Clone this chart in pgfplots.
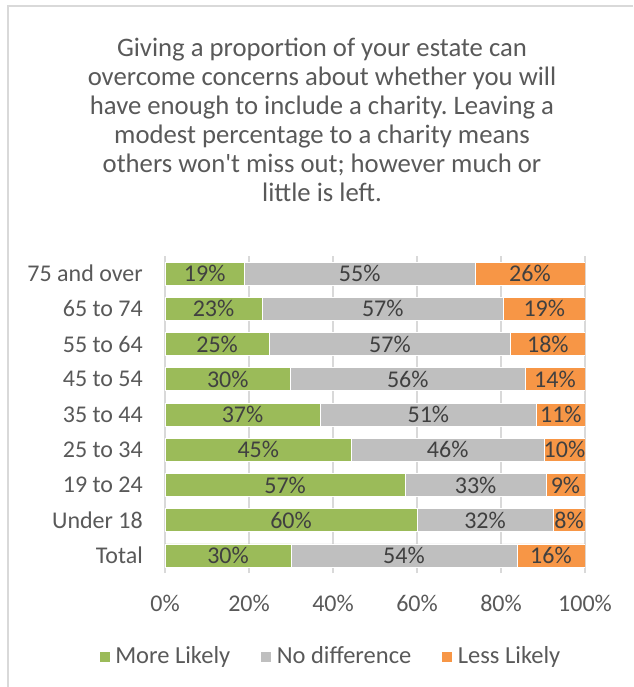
\documentclass[border=0pt]{standalone}
\usepackage{fontspec}
\setmainfont{Carlito}
\usepackage{pgfplots}
\usepackage{pgfplotstable}
\pgfplotsset{compat=1.18}
\frenchspacing
\definecolor{cGreen}{HTML}{9BBB59}
\definecolor{cGray}{HTML}{BFBFBF}
\definecolor{cOrange}{HTML}{F79646}
\definecolor{cGrid}{HTML}{D9D9D9}
\definecolor{cText}{HTML}{595959}
\definecolor{cLabel}{HTML}{404040}

\pgfplotstableread{
y g n l
0 30.0 53.8 16.2
1 60.0 32.4 7.6
2 57.2 33.5 9.3
3 44.4 45.8 9.8
4 36.9 51.6 11.5
5 29.9 55.8 14.3
6 24.8 57.5 17.7
7 23.1 57.5 19.4
8 18.9 54.9 26.2
}\bars

\pgfplotstableread{
x y lab
15.00 0 30\%
56.90 0 54\%
91.90 0 16\%
30.00 1 60\%
76.20 1 32\%
96.20 1 8\%
28.60 2 57\%
73.95 2 33\%
95.35 2 9\%
22.20 3 45\%
67.30 3 46\%
95.10 3 10\%
18.45 4 37\%
62.70 4 51\%
94.25 4 11\%
14.95 5 30\%
57.80 5 56\%
92.85 5 14\%
12.40 6 25\%
53.55 6 57\%
91.15 6 18\%
11.55 7 23\%
51.85 7 57\%
90.30 7 19\%
9.45 8 19\%
46.35 8 55\%
86.90 8 26\%
}\labels

\begin{document}
\begin{tikzpicture}
\fontsize{24pt}{29pt}\selectfont
\path[use as bounding box] (0,0) rectangle (633pt,-687pt);
\draw[cGrid, line width=2pt] (8pt,-687pt) -- (8pt,-6pt) -- (633pt,-6pt);
\node[text=cText, align=center, font=\fontsize{26.7pt}{29pt}\selectfont\frenchspacing] at (322pt,-119.5pt)
 {Giving a proportion of your estate can\\overcome concerns about whether you will\\have enough to include a charity. Leaving a\\modest percentage to a charity means\\others won\textquotesingle t miss out; however much or\\little is left.};

\begin{axis}[
  at={(165pt,-573pt)}, anchor=south west,
  scale only axis, width=420pt, height=317pt,
  xbar stacked, bar width=23pt,
  xmin=0, xmax=100, ymin=-0.5, ymax=8.5,
  axis line style={draw=none},
  major tick length=0pt,
  xmajorgrids, grid style={cGrid, line width=1.2pt},
  xtick={0,20,40,60,80,100},
  xticklabels={0\%,20\%,40\%,60\%,80\%,100\%},
  ytick={0,...,8},
  yticklabels={Total,Under 18,19 to 24,25 to 34,35 to 44,45 to 54,55 to 64,65 to 74,75 and over},
  ticklabel style={font=\fontsize{24pt}{29pt}\selectfont, text=cText},
  xticklabel style={yshift=-14pt},
  yticklabel style={xshift=-14pt},
  legend columns=3,
  legend style={draw=none, fill=none, at={(0.394,-0.265)}, anchor=center,
    font=\fontsize{24.5pt}{29pt}\selectfont, text=cText,
    /tikz/every even column/.append style={column sep=28pt}},
  legend cell align=left,
  legend image code/.code={\fill[#1] (0pt,-5.5pt) rectangle (11pt,5.5pt); \path (14pt,0pt);},
]
\addplot[fill=cGreen, draw=white, line width=0.6pt] table[x=g, y=y]{\bars};
\addlegendentry{More Likely}
\addplot[fill=cGray, draw=white, line width=0.6pt] table[x=n, y=y]{\bars};
\addlegendentry{No difference}
\addplot[fill=cOrange, draw=white, line width=0.6pt] table[x=l, y=y]{\bars};
\addlegendentry{Less Likely}
\end{axis}

\begin{axis}[
  at={(165pt,-573pt)}, anchor=south west,
  scale only axis, width=420pt, height=317pt,
  xmin=0, xmax=100, ymin=-0.5, ymax=8.5,
  hide axis,
]
\addplot[draw=none, nodes near coords, point meta=explicit symbolic,
  every node near coord/.append style={anchor=center, text=cLabel,
    font=\fontsize{24pt}{29pt}\selectfont}]
  table[x=x, y=y, meta=lab]{\labels};
\end{axis}
\end{tikzpicture}
\end{document}
